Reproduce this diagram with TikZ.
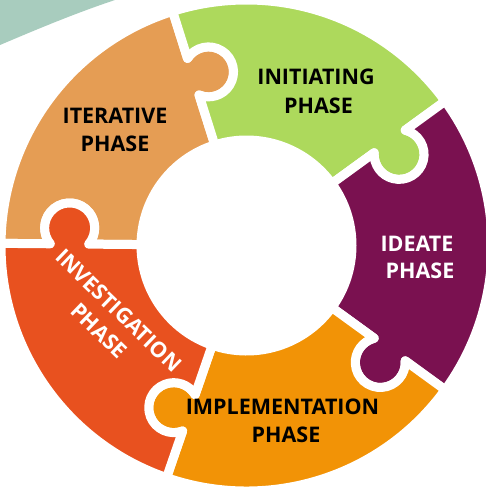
\documentclass[tikz,border=0pt]{standalone}
\usepackage{fontspec}
\setmainfont{Open Sans}
\definecolor{tealc}{HTML}{A8CCBE}
\definecolor{iterc}{HTML}{E59D54}
\definecolor{initc}{HTML}{ADD95C}
\definecolor{ideac}{HTML}{7A1150}
\definecolor{implc}{HTML}{F29306}
\definecolor{invc}{HTML}{E8511F}
\begin{document}
\begin{tikzpicture}[x=1pt,y=1pt,
  piece/.style={draw=white, line width=9pt, line join=round},
  lbl/.style={font=\fontsize{21.5}{28}\selectfont\bfseries, inner sep=0pt, anchor=base}]
\fill[white] (-246.5,-243.5) rectangle (238.5,245.5);
\useasboundingbox (-246.5,-243.5) rectangle (238.5,245.5);
% decorative teal shape in the corner
\fill[tealc] (-246.5,200.5) .. controls (-210,216) and (-172,232) .. (-131.5,245.5) -- (-246.5,245.5) -- cycle;
% puzzle pieces
\foreach \a/\b/\c in {107.5/179.5/iterc, 36/107.5/initc, -36/36/ideac, -109/-36/implc, 179.5/251/invc} {
  \filldraw[piece, fill=\c] (\a:105.5) -- (\a:157.8)
     arc[start angle=\a+140.2, end angle=\a+399.8, radius=25pt] -- (\a:245.5)
     arc[start angle=\a, end angle=\b, radius=245.5pt] -- (\b:196.2)
     arc[start angle=\b+39.8, end angle=\b-219.8, radius=25pt] -- (\b:105.5)
     arc[start angle=\b, end angle=\a, radius=105.5pt] -- cycle;
}
% labels
\node[lbl] (it1) at (-131.5,121.5) {ITERATIVE};
\node[lbl] (it2) at (-131.5,93.5) {PHASE};
\node[lbl] (in1) at (69.5,160.5) {INITIATING};
\node[lbl] (in2) at (72,131.5) {PHASE};
\node[lbl,white] (id1) at (170.5,-6.5) {IDEATE};
\node[lbl,white] (id2) at (173.5,-33.5) {PHASE};
\node[lbl] (im1) at (36,-168.5) {IMPLEMENTATION};
\node[lbl] (im2) at (39.5,-196.5) {PHASE};
\node[lbl,white,rotate=-44,anchor=center,align=center] (iv) at (-137.5,-75) {INVESTIGATION\\PHASE};
\end{tikzpicture}
\end{document}
